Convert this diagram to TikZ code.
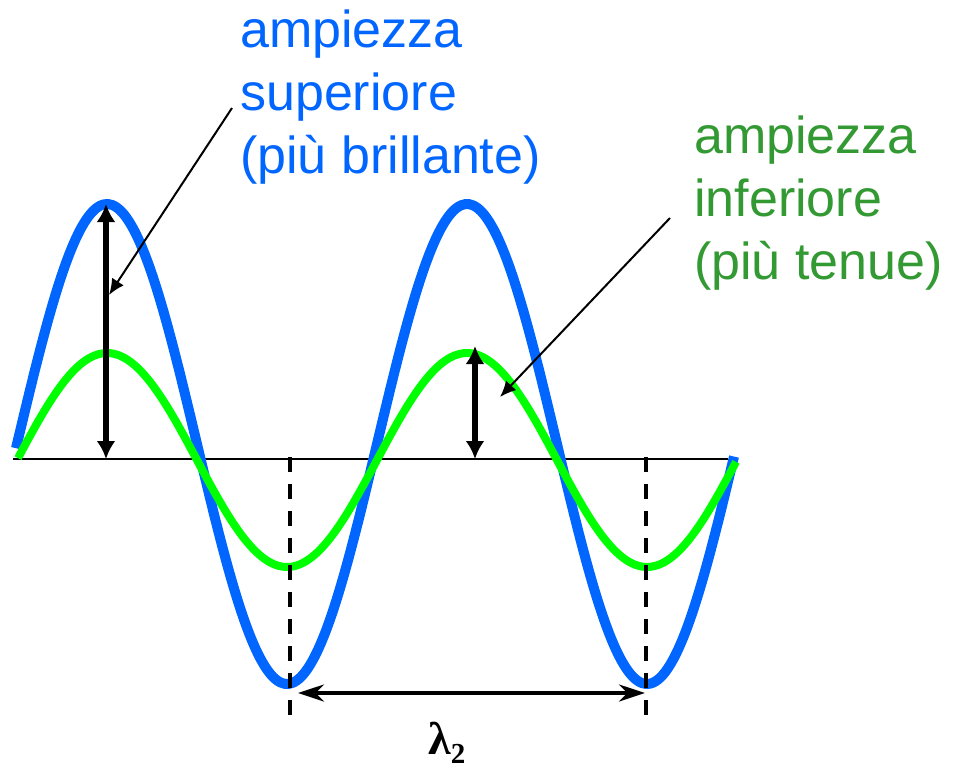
\documentclass[tikz,border=0pt]{standalone}
\usepackage{fontspec}
\setmainfont{Liberation Sans}
\newfontfamily\lamfont{Liberation Serif}
\usetikzlibrary{arrows.meta}
\definecolor{AmpBlue}{RGB}{0,102,255}
\definecolor{AmpGreen}{RGB}{0,255,0}
\definecolor{AmpGreenText}{RGB}{51,153,51}
\tikzset{
  amp/axis/.style={draw=black, line width=1.8pt},
  amp/high/.style={draw=AmpBlue, line width=10pt},
  amp/low/.style={draw=AmpGreen, line width=8pt},
  amp/arrow/.style={{Latex[length=18pt,width=19pt]}-{Latex[length=18pt,width=19pt]}, line width=5.5pt, draw=black},
  amp/pointer/.style={-{Latex[length=16pt,width=14pt]}, line width=2pt, draw=black},
  amp/span/.style={{Stealth[length=26pt,width=17pt]}-{Stealth[length=26pt,width=17pt]}, line width=3.5pt, draw=black},
  amp/dash/.style={draw=black, line width=3.5pt, dash pattern=on 15pt off 12pt},
  amp/label/.style={font=\fontsize{52}{63}\selectfont, align=left, inner sep=0pt, anchor=north west}
}
\begin{document}
\begin{tikzpicture}[x=1pt,y=-1pt]
  \useasboundingbox (0,0) rectangle (953,769);
  % axis and waves
  \coordinate (axisL) at (13,459);
  \coordinate (axisR) at (728,459);
  \draw[amp/axis] (axisL) -- (axisR);
  \draw[amp/high] plot[domain=16:734, samples=180, smooth] (\x, {444-240*cos(\x-107)});
  \draw[amp/low] plot[domain=18:736, samples=180, smooth] (\x, {460-107*cos(\x-107)});
  % amplitude arrows
  \coordinate (hiTop) at (106,204);
  \coordinate (hiBase) at (106,459);
  \coordinate (loTop) at (475,346);
  \coordinate (loBase) at (475,459);
  \draw[amp/arrow] (hiTop) -- (hiBase);
  \draw[amp/arrow] (loTop) -- (loBase);
  % wavelength
  \foreach \name/\x in {trA/290, trB/646}{
    \coordinate (\name top) at (\x,457);
    \coordinate (\name bot) at (\x,726);
    \draw[amp/dash] (\name top) -- (\name bot);
  }
  \coordinate (spanL) at (298,693);
  \coordinate (spanR) at (645,693);
  \draw[amp/span] (spanL) -- (spanR);
  \node[inner sep=0pt, anchor=base west] (lambda) at (428,754)
    {\lamfont\bfseries\fontsize{46}{46}\selectfont λ\raisebox{-9pt}{\fontsize{29}{29}\selectfont 2}};
  % labels
  \node[amp/label, text=AmpBlue] (hiText) at (240,10) {ampiezza\\superiore\\(più brillante)};
  \node[amp/label, text=AmpGreenText] (loText) at (694,116) {ampiezza\\inferiore\\(più tenue)};
  \coordinate (hiFrom) at (232,108);
  \coordinate (hiTo) at (109,295);
  \coordinate (loFrom) at (670,218);
  \coordinate (loTo) at (500,397);
  \draw[amp/pointer] (hiFrom) -- (hiTo);
  \draw[amp/pointer] (loFrom) -- (loTo);
\end{tikzpicture}
\end{document}
